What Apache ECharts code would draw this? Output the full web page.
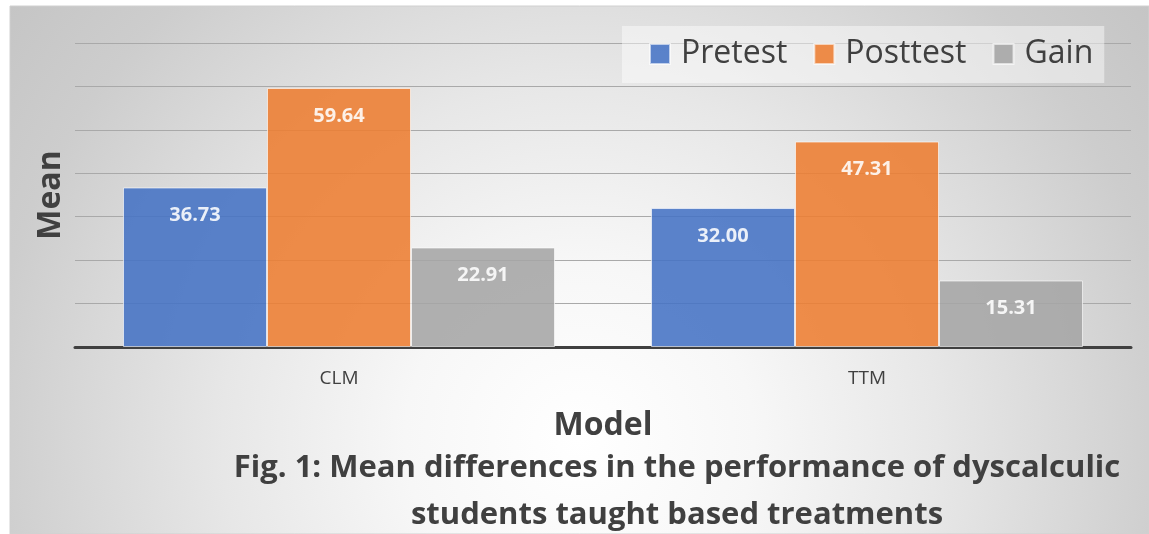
<!DOCTYPE html>
<html>
<head>
<meta charset="utf-8">
<script src="https://cdn.jsdelivr.net/npm/echarts@6/dist/echarts.min.js"></script>
<style>
  html, body { margin: 0; padding: 0; background: #fff; }
  #chart { width: 1149px; height: 534px; }
</style>
</head>
<body>
<div id="chart"></div>
<script>
const models = ['CLM', 'TTM'];
const pretest = [36.73, 32.00];
const posttest = [59.64, 47.31];
const gain = [22.91, 15.31];
const yTicks = [0, 10, 20, 30, 40, 50, 60, 70];

const chart = echarts.init(document.getElementById('chart'));
const font = '"Open Sans", sans-serif';

function barSeries(name, data, color) {
    return {
        name: name,
        type: 'bar',
        data: data,
        barWidth: 144,
        barGap: '0%',
        itemStyle: {
            color: color,
            opacity: 0.88,
            borderColor: 'rgba(255,255,255,0.7)',
            borderWidth: 1
        },
        label: {
            show: true,
            position: 'insideTop',
            distance: 18,
            color: '#fff',
            fontFamily: font,
            fontWeight: 'bold',
            fontSize: 20,
            formatter: function (p) { return p.value.toFixed(2); }
        }
    };
}

const option = {
    animation: false,
    textStyle: { fontFamily: font },
    graphic: [{
        type: 'rect',
        z: -100,
        silent: true,
        shape: { x: 10, y: 6, width: 1139, height: 528 },
        style: {
            // x/y relative to the rect, r relative to its shorter side
            fill: {
                type: 'radial', x: 0.5, y: 0.82, r: 1.5,
                colorStops: [
                    { offset: 0, color: '#ffffff' },
                    { offset: 0.22, color: '#f7f7f7' },
                    { offset: 0.45, color: '#e7e7e7' },
                    { offset: 0.75, color: '#cdcdcd' },
                    { offset: 1, color: '#c0c0c0' }
                ]
            },
            stroke: '#d0d0d0',
            lineWidth: 1
        }
    }],
    title: {
        text: 'Fig. 1: Mean differences in the performance of dyscalculic\nstudents taught based treatments',
        left: 672,
        top: 440,
        textAlign: 'center',
        textStyle: {
            fontFamily: font,
            fontSize: 31,
            fontWeight: 'bold',
            color: '#404040',
            lineHeight: 47,
            align: 'center'
        }
    },
    legend: {
        data: ['Pretest', 'Posttest', 'Gain'],
        left: 622,
        top: 26,
        padding: [12, 11, 13, 27],
        backgroundColor: 'rgba(255,255,255,0.45)',
        itemWidth: 20,
        itemHeight: 20,
        itemGap: 26,
        icon: 'rect',
        textStyle: {
            fontSize: 32,
            lineHeight: 32,
            color: '#404040',
            fontFamily: font,
            padding: [0, 0, 0, 6]
        }
    },
    grid: { left: 75, right: 18, top: 43, bottom: 187 },
    xAxis: {
        type: 'category',
        data: models,
        name: 'Model',
        nameLocation: 'middle',
        nameGap: 63,
        nameTextStyle: { fontSize: 32, fontWeight: 'bold', color: '#404040' },
        axisLine: { lineStyle: { color: '#404040', width: 3 } },
        axisTick: { show: false },
        axisLabel: { fontSize: 19, color: '#404040', margin: 22 }
    },
    yAxis: {
        type: 'value',
        min: yTicks[0],
        max: yTicks[yTicks.length - 1],
        interval: 10,
        name: 'Mean',
        nameLocation: 'middle',
        nameRotate: 90,
        nameGap: 8,
        nameTextStyle: { fontSize: 32, fontWeight: 'bold', color: '#404040' },
        axisLabel: { show: false },
        axisLine: { show: false },
        axisTick: { show: false },
        splitLine: { lineStyle: { color: '#a9a9a9', width: 1.2 } }
    },
    series: [
        barSeries('Pretest', pretest, '#4472C4'),
        barSeries('Posttest', posttest, '#ED7D31'),
        barSeries('Gain', gain, '#A5A5A5')
    ]
};

chart.setOption(option);
window.addEventListener('resize', function () { chart.resize(); });
</script>
</body>
</html>
